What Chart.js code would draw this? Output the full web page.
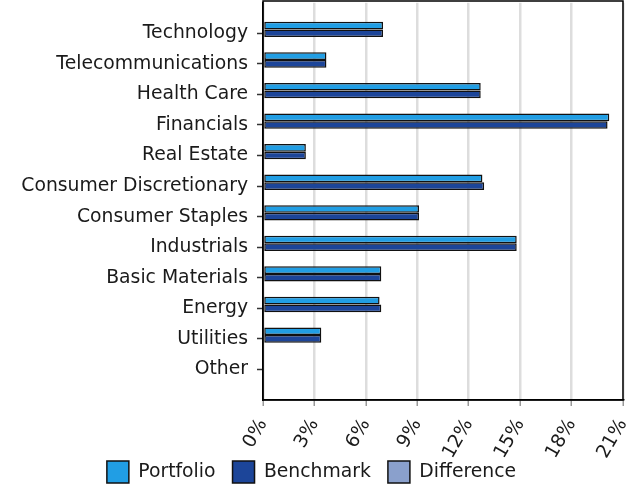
<!DOCTYPE html>
<html lang="en">
<head>
  <meta charset="UTF-8">
  <title>Sector Weights</title>
  <style>
    body { margin: 0; background: #fff; }
    .chart-container { width: 642px; height: 486px; }
  </style>
</head>
<body>
  <div class="chart-container">
    <canvas id="sectorChart"></canvas>
  </div>

  <script src="https://cdn.jsdelivr.net/npm/chart.js"></script>
  <script>
    // Chart data
    const sectors = ['Technology', 'Telecommunications', 'Health Care', 'Financials', 'Real Estate',
      'Consumer Discretionary', 'Consumer Staples', 'Industrials', 'Basic Materials', 'Energy',
      'Utilities', 'Other'];
    const portfolio = [7.0, 3.7, 12.7, 20.2, 2.5, 12.8, 9.1, 14.8, 6.9, 6.8, 3.4, 0];
    const benchmark = [7.0, 3.7, 12.7, 20.1, 2.5, 12.9, 9.1, 14.8, 6.9, 6.9, 3.4, 0];
    const difference = [null, null, null, null, null, null, null, null, null, null, null, null];
    const xTicks = [0, 3, 6, 9, 12, 15, 18, 21];

    // blank slot above and below the categories
    const labels = [''].concat(sectors, ['']);
    const pad = arr => [null].concat(arr, [null]);

    const textColor = '#1a1a1a';
    const font = { family: 'DejaVu Sans', size: 18.8 };

    // plot box outline; also lets the rotated x labels hang below the axis box
    const frame = {
      id: 'frame',
      afterLayout(chart) {
        chart.scales.x.bottom = chart.height;
      },
      afterDraw(chart) {
        const { ctx, chartArea: a } = chart;
        ctx.save();
        ctx.strokeStyle = '#000';
        ctx.lineWidth = 1.5;
        ctx.strokeRect(a.left, 1, a.right - a.left, a.bottom - 1);
        ctx.restore();
      }
    };

    const ctx = document.getElementById('sectorChart').getContext('2d');
    new Chart(ctx, {
      type: 'bar',
      data: {
        labels: labels,
        datasets: [
          { label: 'Portfolio', data: pad(portfolio), backgroundColor: '#219ee4' },
          { label: 'Benchmark', data: pad(benchmark), backgroundColor: '#1c4599' },
          { label: 'Difference', data: pad(difference), backgroundColor: '#8aa0cc' }
        ]
      },
      options: {
        indexAxis: 'y',
        responsive: true,
        maintainAspectRatio: false,
        animation: false,
        layout: { padding: { top: 2.7, right: 19, bottom: -7, left: 0 } },
        datasets: {
          bar: {
            borderColor: '#111',
            borderWidth: 1.5,
            borderSkipped: false,
            categoryPercentage: 0.75,
            barPercentage: 1.0
          }
        },
        scales: {
          y: {
            offset: false,
            grid: {
              offset: false,
              drawOnChartArea: false,
              tickLength: 6,
              tickColor: c => (c.tick && c.tick.label === '') ? 'rgba(0,0,0,0)' : '#333',
              tickWidth: 1.5
            },
            border: { color: '#000', width: 1.5 },
            ticks: { color: textColor, font: font, padding: 9, autoSkip: false },
            afterFit: s => { s.width = 263; s.paddingTop = 0; s.paddingBottom = 0; }
          },
          x: {
            min: 0,
            max: 21,
            afterBuildTicks: s => { s.ticks = xTicks.map(v => ({ value: v })); },
            grid: {
              color: '#dddddd',
              lineWidth: 2.5,
              tickLength: 6,
              tickColor: '#999',
              tickWidth: 1.5
            },
            border: { color: '#000', width: 1.5 },
            ticks: {
              color: textColor,
              font: font,
              padding: 9,
              minRotation: 60,
              maxRotation: 60,
              callback: v => v + '%'
            },
            afterFit: s => { s.height = 44; s.paddingLeft = 0; s.paddingRight = 0; }
          }
        },
        plugins: {
          legend: {
            position: 'bottom',
            labels: {
              color: textColor,
              font: font,
              boxWidth: 22,
              boxHeight: 22,
              padding: 17,
              generateLabels: chart => chart.data.datasets.map((d, i) => ({
                text: d.label,
                fillStyle: d.backgroundColor,
                strokeStyle: '#111',
                lineWidth: 1.5,
                fontColor: textColor,
                datasetIndex: i
              }))
            }
          },
          tooltip: { enabled: false }
        }
      },
      plugins: [frame]
    });
  </script>
</body>
</html>
